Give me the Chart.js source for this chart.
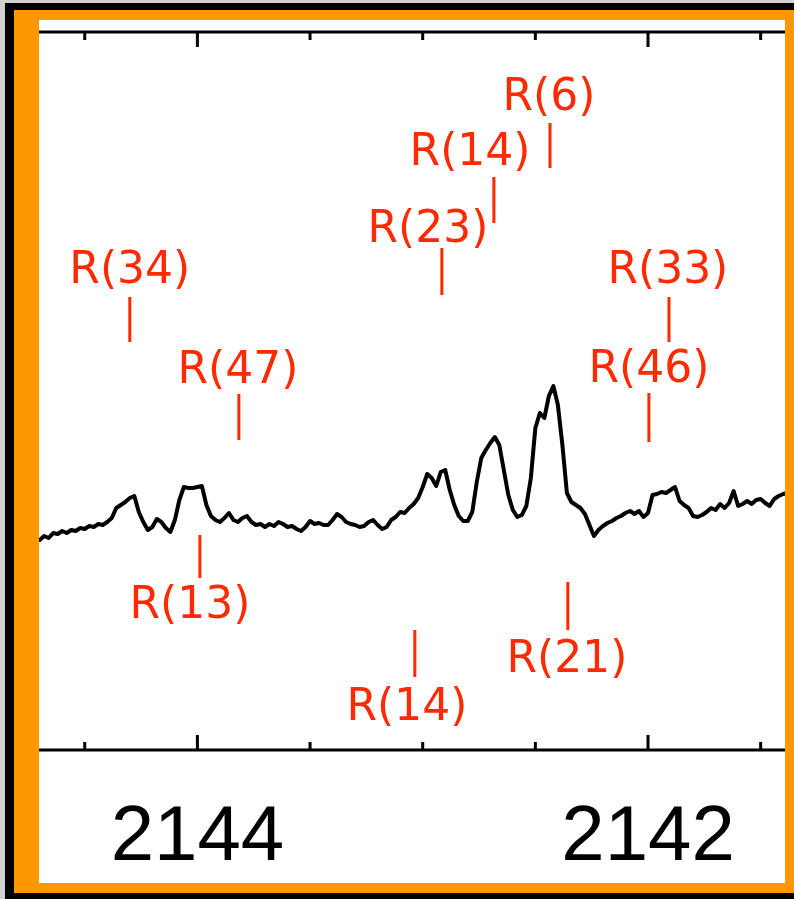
<!DOCTYPE html>
<html>
<head>
<meta charset="utf-8">
<script src="https://cdn.jsdelivr.net/npm/chart.js@4.4.1/dist/chart.umd.min.js"></script>
<style>
  html, body { margin: 0; padding: 0; width: 794px; height: 899px; overflow: hidden; background: #d2d2d2; }
  #outer { position: absolute; left: 5px; top: 3px; width: 820px; height: 896px; background: #000; }
  #band  { position: absolute; left: 14px; top: 10px; width: 820px; height: 883px; background: #ff9800; }
  #panel { position: absolute; left: 39px; top: 20px; width: 746px; height: 863px; background: #fff; }
  canvas { display: block; }
</style>
</head>
<body>
<div id="outer"></div>
<div id="band"></div>
<div id="panel"><canvas id="spec" width="746" height="863"></canvas></div>
<script>
// Wavenumber grid of the spectrum (cm^-1)
const wavenumber = [
  2144.70, 2144.68, 2144.66, 2144.64, 2144.62, 2144.60, 2144.58, 2144.56, 2144.54, 2144.52,
  2144.50, 2144.48, 2144.46, 2144.44, 2144.42, 2144.40, 2144.38, 2144.36, 2144.34, 2144.32,
  2144.30, 2144.28, 2144.26, 2144.24, 2144.22, 2144.20, 2144.18, 2144.16, 2144.14, 2144.12,
  2144.10, 2144.08, 2144.06, 2144.04, 2144.02, 2144.00, 2143.98, 2143.96, 2143.94, 2143.92,
  2143.90, 2143.88, 2143.86, 2143.84, 2143.82, 2143.80, 2143.78, 2143.76, 2143.74, 2143.72,
  2143.70, 2143.68, 2143.66, 2143.64, 2143.62, 2143.60, 2143.58, 2143.56, 2143.54, 2143.52,
  2143.50, 2143.48, 2143.46, 2143.44, 2143.42, 2143.40, 2143.38, 2143.36, 2143.34, 2143.32,
  2143.30, 2143.28, 2143.26, 2143.24, 2143.22, 2143.20, 2143.18, 2143.16, 2143.14, 2143.12,
  2143.10, 2143.08, 2143.06, 2143.04, 2143.02, 2143.00, 2142.98, 2142.96, 2142.94, 2142.92,
  2142.90, 2142.88, 2142.86, 2142.84, 2142.82, 2142.80, 2142.78, 2142.76, 2142.74, 2142.72,
  2142.70, 2142.68, 2142.66, 2142.64, 2142.62, 2142.60, 2142.58, 2142.56, 2142.54, 2142.52,
  2142.50, 2142.48, 2142.46, 2142.44, 2142.42, 2142.40, 2142.38, 2142.36, 2142.34, 2142.32,
  2142.30, 2142.28, 2142.26, 2142.24, 2142.22, 2142.20, 2142.18, 2142.16, 2142.14, 2142.12,
  2142.10, 2142.08, 2142.06, 2142.04, 2142.02, 2142.00, 2141.98, 2141.96, 2141.94, 2141.92,
  2141.90, 2141.88, 2141.86, 2141.84, 2141.82, 2141.80, 2141.78, 2141.76, 2141.74, 2141.72,
  2141.70, 2141.68, 2141.66, 2141.64, 2141.62, 2141.60, 2141.58, 2141.56, 2141.54, 2141.52,
  2141.50, 2141.48, 2141.46, 2141.44, 2141.42, 2141.40, 2141.38
];

// Relative flux at each wavenumber
const flux = [
  1.010, 1.014, 1.012, 1.017, 1.016, 1.019, 1.017, 1.020, 1.019, 1.022,
  1.021, 1.024, 1.023, 1.026, 1.025, 1.028, 1.032, 1.042, 1.045, 1.048,
  1.052, 1.054, 1.038, 1.028, 1.020, 1.023, 1.031, 1.028, 1.022, 1.018,
  1.030, 1.050, 1.063, 1.062, 1.062, 1.063, 1.064, 1.045, 1.034, 1.030,
  1.028, 1.032, 1.037, 1.030, 1.028, 1.032, 1.034, 1.028, 1.025, 1.026,
  1.023, 1.026, 1.024, 1.028, 1.026, 1.023, 1.024, 1.021, 1.019, 1.023,
  1.029, 1.026, 1.027, 1.025, 1.025, 1.030, 1.036, 1.033, 1.028, 1.026,
  1.025, 1.023, 1.024, 1.028, 1.030, 1.025, 1.021, 1.023, 1.030, 1.033,
  1.038, 1.037, 1.042, 1.046, 1.052, 1.063, 1.076, 1.072, 1.064, 1.078,
  1.080, 1.060, 1.045, 1.034, 1.029, 1.029, 1.038, 1.068, 1.092, 1.100,
  1.107, 1.113, 1.105, 1.080, 1.055, 1.040, 1.033, 1.035, 1.044, 1.072,
  1.122, 1.137, 1.132, 1.154, 1.164, 1.145, 1.105, 1.057, 1.048, 1.045,
  1.042, 1.036, 1.025, 1.014, 1.020, 1.024, 1.027, 1.029, 1.032, 1.034,
  1.037, 1.039, 1.036, 1.039, 1.033, 1.037, 1.055, 1.056, 1.058, 1.057,
  1.060, 1.063, 1.049, 1.045, 1.042, 1.034, 1.033, 1.035, 1.038, 1.042,
  1.040, 1.046, 1.042, 1.047, 1.059, 1.044, 1.046, 1.049, 1.046, 1.050,
  1.051, 1.047, 1.044, 1.051, 1.054, 1.056, 1.057
];

// Line identifications and their positions (cm^-1)
const lineNames   = ['R(34)', 'R(47)', 'R(13)', 'R(23)', 'R(14)', 'R(14)', 'R(6)', 'R(21)', 'R(33)', 'R(46)'];
const lineCenters = [2144.300, 2143.816, 2143.989, 2142.915, 2143.035, 2142.684, 2142.435, 2142.356, 2141.907, 2141.996];

// Labelled ticks on the wavenumber axis
const axisLabels = [2144, 2142];

// Where each marker's bar and caption sit (flux units), and caption centre (cm^-1)
const markerPlacement = [
  { bar: [1.208, 1.253], captionAt: 2144.300, baseline: 1.267 },
  { bar: [1.110, 1.156], captionAt: 2143.820, baseline: 1.167 },
  { bar: [0.972, 1.015], captionAt: 2144.033, baseline: 0.932 },
  { bar: [1.255, 1.302], captionAt: 2142.977, baseline: 1.308 },
  { bar: [0.873, 0.920], captionAt: 2143.070, baseline: 0.830 },
  { bar: [1.327, 1.373], captionAt: 2142.790, baseline: 1.385 },
  { bar: [1.382, 1.427], captionAt: 2142.440, baseline: 1.440 },
  { bar: [0.920, 0.968], captionAt: 2142.360, baseline: 0.878 },
  { bar: [1.208, 1.253], captionAt: 2141.912, baseline: 1.267 },
  { bar: [1.108, 1.157], captionAt: 2141.996, baseline: 1.168 }
];

const MARK_RED = '#ff2a00';

// Frame lines along top and bottom with inward ticks, plus line markers
const frameAndMarkers = {
  id: 'frameAndMarkers',
  afterDatasetsDraw(chart) {
    const { ctx, chartArea: a, scales: { x, y } } = chart;
    ctx.save();
    ctx.strokeStyle = '#000';
    ctx.lineWidth = 3;
    ctx.beginPath();
    ctx.moveTo(a.left, a.top);    ctx.lineTo(a.right, a.top);
    ctx.moveTo(a.left, a.bottom); ctx.lineTo(a.right, a.bottom);
    ctx.stroke();
    x.ticks.forEach(t => {
      const px = x.getPixelForValue(t.value);
      const major = Math.abs(t.value / 2 - Math.round(t.value / 2)) < 1e-6;
      const len = major ? 15 : 8;
      ctx.beginPath();
      ctx.moveTo(px, a.top);    ctx.lineTo(px, a.top + len);
      ctx.moveTo(px, a.bottom); ctx.lineTo(px, a.bottom - len);
      ctx.stroke();
    });

    ctx.strokeStyle = MARK_RED;
    ctx.fillStyle = MARK_RED;
    ctx.lineWidth = 3;
    ctx.font = '44px "DejaVu Sans", Verdana, sans-serif';
    ctx.textAlign = 'center';
    ctx.textBaseline = 'alphabetic';
    lineNames.forEach((name, i) => {
      const p = markerPlacement[i];
      const bx = x.getPixelForValue(lineCenters[i]);
      ctx.beginPath();
      ctx.moveTo(bx, y.getPixelForValue(p.bar[0]));
      ctx.lineTo(bx, y.getPixelForValue(p.bar[1]));
      ctx.stroke();
      ctx.fillText(name, x.getPixelForValue(p.captionAt), y.getPixelForValue(p.baseline));
    });
    ctx.restore();
  }
};

new Chart(document.getElementById('spec'), {
  type: 'line',
  data: {
    datasets: [{
      data: wavenumber.map((w, i) => ({ x: w, y: flux[i] })),
      borderColor: '#000',
      borderWidth: 4,
      borderJoinStyle: 'round',
      borderCapStyle: 'round',
      tension: 0,
      pointRadius: 0,
      fill: false
    }]
  },
  options: {
    responsive: false,
    animation: false,
    events: [],
    layout: { padding: { top: 12, left: 0, right: 0, bottom: 0 } },
    plugins: { legend: { display: false }, tooltip: { enabled: false } },
    scales: {
      x: {
        type: 'linear',
        reverse: true,
        min: 2141.392,
        max: 2144.703,
        afterFit(scale) {
          scale.height = 133;
          scale.paddingLeft = 0;
          scale.paddingRight = 0;
        },
        grid: { display: false, drawTicks: false },
        border: { display: false },
        ticks: {
          stepSize: 0.5,
          includeBounds: false,
          autoSkip: false,
          maxRotation: 0,
          minRotation: 0,
          padding: 42,
          color: '#000',
          font: { family: '"Liberation Sans", Arial, sans-serif', size: 78 },
          callback: v => axisLabels.includes(v) ? String(v) : ''
        }
      },
      y: { display: false, min: 0.8, max: 1.518 }
    }
  },
  plugins: [frameAndMarkers]
});
</script>
</body>
</html>
